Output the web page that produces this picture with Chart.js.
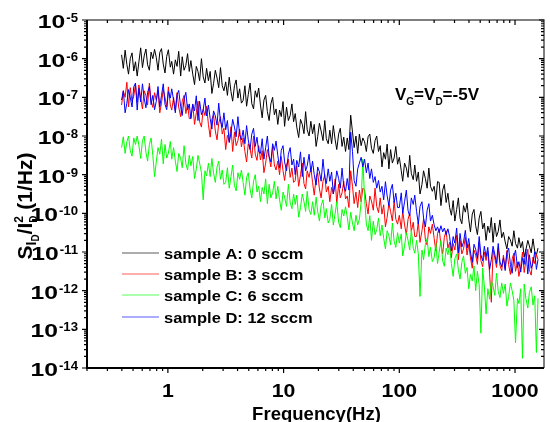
<!DOCTYPE html>
<html>
<head>
<meta charset="utf-8">
<script src="https://cdn.jsdelivr.net/npm/chart.js@4.4.0/dist/chart.umd.min.js"></script>
<style>
  body { margin: 0; background: #fff; }
  #wrap { width: 550px; height: 422px; }
</style>
</head>
<body>
<div id="wrap"><canvas id="noiseChart" width="550" height="422"></canvas></div>
<script>
// frequency grid (Hz)
const freqHz = [0.398,0.412,0.427,0.442,0.457,0.473,0.490,0.507,0.525,0.543,
  0.562,0.582,0.603,0.624,0.646,0.668,0.692,0.716,0.741,0.767,
  0.794,0.822,0.851,0.881,0.912,0.944,0.977,1.01,1.05,1.08,
  1.12,1.16,1.20,1.24,1.29,1.33,1.38,1.43,1.48,1.53,
  1.58,1.64,1.70,1.76,1.82,1.88,1.95,2.02,2.09,2.16,
  2.24,2.32,2.40,2.48,2.57,2.66,2.75,2.85,2.95,3.05,
  3.16,3.27,3.39,3.51,3.63,3.76,3.89,4.03,4.17,4.32,
  4.47,4.63,4.79,4.95,5.13,5.31,5.50,5.69,5.89,6.09,
  6.31,6.53,6.76,7.00,7.24,7.50,7.76,8.04,8.32,8.61,
  8.91,9.23,9.55,9.89,10.2,10.6,11.0,11.4,11.8,12.2,
  12.6,13.0,13.5,14.0,14.5,15.0,15.5,16.0,16.6,17.2,
  17.8,18.4,19.1,19.7,20.4,21.1,21.9,22.7,23.4,24.3,
  25.1,26.0,26.9,27.9,28.8,29.9,30.9,32.0,33.1,34.3,
  35.5,36.7,38.0,39.4,40.7,42.2,43.7,45.2,46.8,48.4,
  50.1,51.9,53.7,55.6,57.5,59.6,61.7,63.8,66.1,68.4,
  70.8,73.3,75.9,78.5,81.3,84.1,87.1,90.2,93.3,96.6,
  100,104,107,111,115,119,123,127,132,136,
  141,146,151,157,162,168,174,180,186,193,
  200,207,214,221,229,237,245,254,263,272,
  282,292,302,313,324,335,347,359,372,385,
  398,412,427,442,457,473,490,507,525,543,
  562,582,603,624,646,668,692,716,741,767,
  794,822,851,881,912,944,977,1010,1050,1080,
  1120,1160,1200,1240,1290,1330,1380,1430,1480,1530,
  1580];

// log10 of S_ID/ID^2 (1/Hz)
const sampleA = [-5.90,-6.25,-5.78,-6.15,-6.40,-6.00,-5.85,-6.32,-6.08,-6.45,
  -6.08,-5.72,-6.23,-5.93,-5.75,-6.16,-6.30,-5.83,-6.00,-5.76,
  -5.97,-6.30,-5.84,-5.74,-6.14,-6.37,-5.94,-5.77,-6.22,-6.07,
  -6.40,-6.03,-6.20,-5.81,-6.45,-5.95,-6.30,-6.17,-5.87,-6.33,
  -6.05,-6.40,-6.67,-6.20,-6.33,-6.57,-6.00,-6.47,-6.63,-6.25,
  -6.57,-6.33,-6.90,-6.65,-6.30,-6.50,-6.75,-6.23,-6.70,-6.83,
  -6.60,-6.95,-6.48,-6.85,-7.10,-6.70,-6.55,-7.02,-6.78,-7.15,
  -7.08,-6.70,-7.23,-6.93,-6.63,-7.16,-7.30,-6.83,-7.00,-6.76,
  -7.20,-7.53,-7.07,-6.95,-7.37,-7.60,-7.17,-7.00,-7.45,-7.30,
  -7.70,-7.33,-7.50,-7.11,-7.75,-7.25,-7.60,-7.47,-7.17,-7.63,
  -7.42,-7.77,-8.04,-7.57,-7.70,-7.94,-7.37,-7.84,-8.00,-7.62,
  -7.94,-7.70,-8.27,-8.02,-7.67,-7.87,-8.12,-7.60,-8.07,-8.20,
  -7.85,-8.20,-7.73,-8.10,-8.35,-7.95,-7.80,-8.27,-8.03,-8.40,
  -8.05,-8.35,-7.46,-7.90,-8.30,-8.00,-8.45,-7.95,-8.25,-8.05,
  -8.15,-8.40,-8.02,-7.95,-8.32,-8.45,-8.12,-8.00,-8.40,-8.25,
  -8.80,-8.43,-8.60,-8.21,-8.85,-8.35,-8.70,-8.57,-8.27,-8.73,
  -8.55,-8.90,-9.17,-8.70,-8.83,-9.07,-8.50,-8.97,-9.13,-8.75,
  -9.17,-8.93,-9.50,-9.25,-8.90,-9.10,-9.35,-8.83,-9.30,-9.43,
  -9.30,-9.65,-9.18,-9.20,-9.80,-9.40,-9.25,-9.72,-9.48,-9.85,
  -10.05,-9.67,-10.20,-9.90,-9.60,-10.13,-10.27,-9.80,-9.97,-9.73,
  -10.15,-10.48,-10.02,-9.90,-10.32,-10.55,-10.12,-9.95,-10.40,-10.25,
  -10.70,-10.33,-10.50,-10.11,-10.75,-10.25,-10.60,-10.47,-10.17,-10.63,
  -10.49,-10.74,-10.92,-10.60,-10.69,-10.85,-10.45,-10.78,-10.90,-10.63,
  -10.89,-10.73,-11.13,-10.95,-10.70,-10.84,-11.02,-10.66,-10.98,-11.08,
  -10.90];
const sampleB = [-7.20,-6.83,-7.00,-6.61,-7.25,-6.75,-7.10,-6.97,-6.67,-7.13,
  -6.68,-7.03,-7.30,-6.83,-6.96,-7.20,-6.63,-7.10,-7.26,-6.88,
  -7.07,-6.83,-7.40,-7.15,-6.80,-7.00,-7.25,-6.73,-7.20,-7.33,
  -7.00,-7.35,-6.88,-7.25,-7.50,-7.10,-6.95,-7.42,-7.18,-7.55,
  -7.55,-7.17,-7.70,-7.40,-7.10,-7.63,-7.77,-7.30,-7.47,-7.23,
  -7.70,-8.03,-7.57,-7.45,-7.87,-8.10,-7.67,-7.50,-7.95,-7.80,
  -8.35,-7.98,-8.15,-7.76,-8.40,-7.90,-8.25,-8.12,-7.82,-8.28,
  -8.05,-8.40,-8.67,-8.20,-8.33,-8.57,-8.00,-8.47,-8.63,-8.25,
  -8.62,-8.38,-8.95,-8.70,-8.35,-8.55,-8.80,-8.28,-8.75,-8.88,
  -8.65,-9.00,-8.53,-8.90,-9.15,-8.75,-8.60,-9.07,-8.83,-9.20,
  -9.15,-8.77,-9.30,-9.00,-8.70,-9.23,-9.37,-8.90,-9.07,-8.83,
  -9.20,-9.53,-9.07,-8.95,-9.37,-9.60,-9.17,-9.00,-9.45,-9.30,
  -9.70,-9.33,-9.50,-9.11,-9.75,-9.25,-9.60,-9.47,-9.17,-9.63,
  -9.55,-9.85,-8.90,-9.30,-9.75,-9.45,-9.85,-9.40,-9.70,-9.35,
  -9.40,-9.75,-10.02,-9.55,-9.68,-9.92,-9.35,-9.82,-9.98,-9.60,
  -10.02,-9.78,-10.35,-10.10,-9.75,-9.95,-10.20,-9.68,-10.15,-10.28,
  -10.05,-10.40,-9.93,-10.30,-10.55,-10.15,-10.00,-10.47,-10.23,-10.60,
  -10.60,-10.22,-10.75,-10.45,-10.15,-10.68,-10.82,-10.35,-10.52,-10.28,
  -10.65,-10.98,-10.52,-10.40,-10.82,-11.05,-10.62,-10.45,-10.90,-10.75,
  -11.15,-10.78,-10.95,-10.56,-11.20,-10.70,-11.05,-10.92,-10.62,-11.08,
  -10.80,-11.15,-11.42,-10.95,-11.08,-11.32,-10.75,-11.22,-11.38,-11.00,
  -11.22,-10.98,-11.55,-12.30,-10.95,-11.15,-11.40,-10.88,-11.35,-11.48,
  -11.08,-11.43,-10.96,-11.33,-11.58,-11.18,-11.03,-11.50,-11.26,-11.63,
  -11.38,-11.00,-11.53,-11.23,-10.93,-11.46,-11.60,-11.13,-11.30,-11.06,
  -11.20];
const sampleC = [-8.30,-8.02,-8.45,-8.15,-8.00,-8.38,-8.52,-8.05,-8.22,-8.00,
  -8.25,-8.58,-8.12,-8.00,-8.42,-8.65,-8.22,-8.05,-8.50,-9.05,
  -8.67,-8.30,-8.47,-8.08,-8.72,-8.22,-8.57,-8.44,-8.14,-8.60,
  -8.30,-8.65,-8.92,-8.45,-8.58,-8.82,-8.25,-8.72,-8.88,-8.50,
  -8.77,-8.53,-9.10,-8.85,-8.50,-8.70,-8.95,-9.65,-8.90,-9.03,
  -8.70,-9.05,-8.58,-8.95,-9.20,-8.80,-8.65,-9.12,-8.88,-9.25,
  -9.20,-8.82,-9.35,-9.05,-8.75,-9.28,-9.42,-8.95,-9.12,-8.88,
  -9.20,-9.53,-9.07,-8.95,-9.37,-9.60,-9.17,-9.00,-9.45,-9.30,
  -9.70,-9.33,-9.50,-9.11,-9.75,-9.25,-9.60,-9.47,-9.17,-9.63,
  -9.30,-9.65,-9.92,-9.45,-9.58,-9.82,-9.25,-9.72,-9.88,-9.50,
  -9.77,-9.53,-10.10,-9.85,-9.50,-9.70,-9.95,-9.43,-9.90,-10.03,
  -9.70,-10.05,-9.58,-9.95,-10.20,-9.80,-9.65,-10.12,-9.88,-10.25,
  -10.15,-9.77,-10.30,-10.00,-9.70,-10.23,-10.37,-9.90,-10.07,-9.83,
  -10.10,-10.43,-9.97,-10.25,-10.45,-10.05,-10.30,-10.15,-9.70,-8.60,
  -9.60,-10.28,-10.45,-10.06,-10.70,-10.20,-10.55,-10.42,-10.12,-10.58,
  -10.30,-10.65,-10.92,-10.45,-10.58,-10.82,-10.25,-10.72,-10.88,-10.50,
  -10.77,-10.53,-11.10,-10.85,-10.50,-10.70,-10.95,-10.43,-10.90,-11.03,
  -10.70,-11.05,-12.15,-10.95,-11.20,-10.80,-10.65,-11.12,-10.88,-11.25,
  -11.15,-10.77,-11.30,-11.00,-10.70,-11.23,-11.37,-10.90,-11.07,-10.83,
  -11.30,-11.63,-11.17,-11.05,-11.47,-11.70,-11.27,-11.10,-11.55,-11.40,
  -11.95,-11.58,-11.75,-11.36,-12.00,-11.50,-11.85,-13.10,-11.42,-11.88,
  -12.60,-11.95,-12.22,-11.75,-11.88,-12.12,-11.55,-12.02,-12.18,-11.80,
  -12.07,-11.83,-12.40,-12.15,-11.80,-12.00,-12.25,-13.35,-12.20,-12.33,
  -11.95,-13.75,-11.83,-12.20,-12.45,-12.05,-11.90,-12.37,-12.13,-13.60,
  -12.20];
const sampleD = [-7.07,-6.83,-7.40,-7.15,-6.80,-7.00,-7.25,-6.73,-6.63,-7.33,
  -6.77,-7.12,-6.65,-7.02,-7.27,-6.87,-6.72,-7.19,-6.95,-7.32,
  -7.10,-6.72,-7.25,-6.95,-6.65,-7.18,-7.32,-6.85,-7.02,-6.78,
  -7.07,-7.40,-6.94,-6.82,-7.24,-7.47,-7.04,-6.87,-7.32,-7.17,
  -7.55,-7.18,-7.35,-6.96,-7.60,-7.10,-7.45,-7.32,-7.02,-7.48,
  -7.20,-7.55,-7.82,-7.35,-7.48,-7.72,-7.15,-7.62,-7.78,-7.40,
  -7.84,-7.60,-8.17,-7.92,-7.57,-7.77,-8.02,-7.50,-7.97,-8.10,
  -7.85,-8.20,-7.73,-8.10,-8.35,-7.95,-7.80,-8.27,-8.03,-8.40,
  -8.45,-8.07,-8.60,-8.30,-8.00,-8.53,-8.67,-8.20,-8.37,-8.13,
  -8.50,-8.83,-8.37,-8.25,-8.67,-8.90,-8.47,-8.30,-8.75,-8.60,
  -9.00,-8.63,-8.80,-8.41,-9.05,-8.55,-8.90,-8.77,-8.47,-8.93,
  -8.65,-9.00,-9.27,-8.80,-8.93,-9.17,-8.60,-9.07,-9.23,-8.85,
  -9.17,-8.93,-9.50,-9.25,-8.90,-9.10,-9.35,-8.83,-9.30,-9.43,
  -9.10,-9.40,-7.90,-8.40,-9.15,-9.30,-8.85,-8.70,-8.55,-8.80,
  -8.60,-8.95,-8.70,-9.10,-8.85,-9.20,-9.05,-9.35,-9.15,-9.45,
  -9.30,-9.65,-9.18,-9.55,-9.80,-9.40,-9.25,-9.72,-9.48,-9.85,
  -9.85,-9.47,-10.00,-9.70,-9.40,-9.93,-10.07,-9.60,-9.77,-9.53,
  -9.95,-10.28,-9.82,-9.70,-10.12,-10.35,-9.92,-9.75,-10.20,-10.05,
  -10.30,-10.45,-10.35,-10.50,-10.32,-10.48,-10.38,-10.55,-10.40,-10.60,
  -10.97,-10.60,-10.77,-10.38,-11.02,-10.52,-10.87,-10.74,-10.44,-10.90,
  -10.65,-11.00,-11.27,-10.80,-10.93,-11.17,-10.60,-11.07,-11.23,-10.85,
  -11.12,-10.88,-11.45,-11.20,-10.85,-11.05,-11.30,-10.78,-11.25,-11.38,
  -11.15,-11.48,-11.02,-10.90,-11.32,-11.55,-11.12,-10.95,-11.40,-11.25,
  -11.52,-11.15,-11.32,-10.93,-11.57,-11.07,-11.42,-11.29,-10.99,-11.45,
  -11.20];

const seriesNames = ['sample A: 0 sccm', 'sample B: 3 sccm', 'sample C: 6 sccm', 'sample D: 12 sccm'];
const seriesColors = ['#000000', '#ff0000', '#00ff00', '#0000ff'];
const xTickLabels = ['1', '10', '100', '1000'];
const yTickExps = ['-14', '-13', '-12', '-11', '-10', '-9', '-8', '-7', '-6', '-5'];

const FONT = '"Liberation Sans", Arial, sans-serif';

function txt(ctx, s, x, y, size, align, sx) {
  ctx.save();
  ctx.font = 'bold ' + size + 'px ' + FONT;
  ctx.textAlign = align;
  ctx.textBaseline = 'alphabetic';
  ctx.translate(x, y);
  ctx.scale(sx, 1);
  ctx.fillText(s, 0, 0);
  ctx.restore();
}
function wid(ctx, s, size, sx) {
  ctx.font = 'bold ' + size + 'px ' + FONT;
  return ctx.measureText(s).width * sx;
}
// pieces [text, size, dy, noAdvance], drawn left to right
function runs(ctx, parts, x, y) {
  parts.forEach(p => {
    txt(ctx, p[0], x, y + p[2], p[1], 'left', 1);
    if (!p[3]) x += wid(ctx, p[0], p[1], 1);
  });
  return x;
}

const decor = {
  id: 'decor',
  afterDatasetsDraw(chart) {
    const ctx = chart.ctx, a = chart.chartArea;
    const xs = chart.scales.x, ys = chart.scales.y;
    ctx.save();
    ctx.fillStyle = '#000';

    // frame
    ctx.strokeStyle = '#555';
    ctx.lineWidth = 1.5;
    ctx.beginPath();
    ctx.moveTo(a.left, a.top); ctx.lineTo(a.right, a.top); ctx.lineTo(a.right, a.bottom);
    ctx.stroke();
    ctx.strokeStyle = '#000';
    ctx.lineWidth = 2;
    ctx.beginPath();
    ctx.moveTo(a.left, a.top); ctx.lineTo(a.left, a.bottom); ctx.lineTo(a.right, a.bottom);
    ctx.stroke();

    // ticks
    ctx.lineWidth = 1.2;
    ctx.beginPath();
    [0.1, 1, 10, 100, 1000].forEach(d => {
      for (let m = 1; m <= 9; m++) {
        const v = m * d;
        if (v < xs.min || v > xs.max) continue;
        const px = xs.getPixelForValue(v), len = m === 1 ? 5 : 3;
        ctx.moveTo(px, a.bottom); ctx.lineTo(px, a.bottom + len);
        ctx.moveTo(px, a.top); ctx.lineTo(px, a.top + len);
      }
    });
    for (let e = -14; e <= -5; e++) {
      for (let m = 1; m <= 9; m++) {
        const v = m * Math.pow(10, e);
        if (v > ys.max * 1.0001) continue;
        const py = ys.getPixelForValue(v), len = m === 1 ? 5 : 3;
        ctx.moveTo(a.left - len, py); ctx.lineTo(a.left, py);
        ctx.moveTo(a.right, py); ctx.lineTo(a.right - len, py);
      }
    }
    ctx.stroke();

    // x tick labels
    xTickLabels.forEach(t => {
      const px = xs.getPixelForValue(Number(t));
      txt(ctx, t, px, a.bottom + 29, 19, 'center', 1.12);
    });
    txt(ctx, 'Frequency(Hz)', (a.left + a.right) / 2 + 1, a.bottom + 52, 18, 'center', 1.03);

    // y tick labels 10^n
    yTickExps.forEach(t => {
      const py = ys.getPixelForValue(Math.pow(10, Number(t)));
      const right = a.left - 9;
      const sw = wid(ctx, t, 12, 1.1);
      txt(ctx, t, right, py + 2, 12, 'right', 1.1);
      txt(ctx, '10', right - sw - 1, py + 8, 19, 'right', 1.3);
    });

    // y title
    ctx.save();
    ctx.translate(32, 206);
    ctx.rotate(-Math.PI / 2);
    const yParts = [['S', 21, 0], ['I', 14, 4], ['D', 10, 7], ['/I', 21, 0], ['2', 12, -9, true], ['D', 10, 5], [' (1/Hz)', 21, 0]];
    let tw = 0;
    yParts.forEach(p => { if (!p[3]) tw += wid(ctx, p[0], p[1], 1); });
    runs(ctx, yParts, -tw / 2, 0);
    ctx.restore();

    // bias note
    runs(ctx, [['V', 17, 0], ['G', 10, 5], ['=V', 17, 0], ['D', 10, 5], ['=-5V', 17, 0]], 395, 100);

    // legend
    const rows = [253, 274, 295, 317];
    chart.data.datasets.forEach((ds, i) => {
      ctx.save();
      ctx.globalAlpha = 0.65;
      ctx.strokeStyle = ds.borderColor;
      ctx.lineWidth = 1.2;
      ctx.beginPath();
      ctx.moveTo(122, rows[i]); ctx.lineTo(159, rows[i]);
      ctx.stroke();
      ctx.restore();
      txt(ctx, ds.label, 164, rows[i] + 5.5, 15, 'left', 1.1);
    });
    ctx.restore();
  }
};

const series = [sampleA, sampleB, sampleC, sampleD];
const datasets = series.map((vals, i) => ({
  label: seriesNames[i],
  data: freqHz.map((f, k) => ({ x: f, y: Math.pow(10, vals[k]) })),
  borderColor: seriesColors[i],
  borderWidth: 1,
  pointRadius: 0,
  tension: 0,
  fill: false,
  order: series.length - i
}));

new Chart(document.getElementById('noiseChart').getContext('2d'), {
  type: 'line',
  data: { datasets: datasets },
  options: {
    responsive: false,
    animation: false,
    layout: { padding: { left: 87, right: 6, top: 20, bottom: 54 } },
    plugins: { legend: { display: false }, tooltip: { enabled: false } },
    scales: {
      x: { type: 'logarithmic', min: 0.2, max: 1780, display: false },
      y: { type: 'logarithmic', min: 1e-14, max: 1e-5, display: false }
    }
  },
  plugins: [decor]
});
</script>
</body>
</html>
